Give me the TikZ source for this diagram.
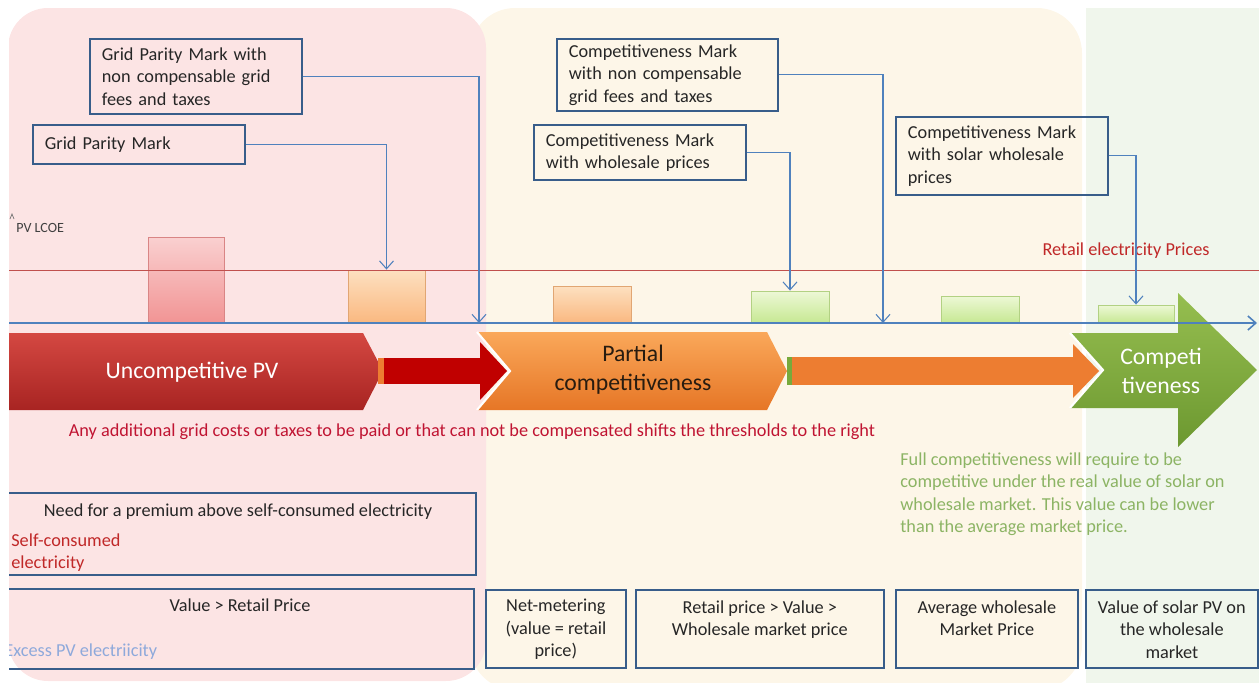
\documentclass[tikz,border=0pt]{standalone}
\usepackage{fontspec}
\setmainfont{Carlito}
\usetikzlibrary{arrows.meta}

\definecolor{pinkbg}{RGB}{252,228,228}
\definecolor{beigebg}{RGB}{253,246,232}
\definecolor{greenbg}{RGB}{240,246,236}
\definecolor{boxblue}{RGB}{56,93,138}
\definecolor{axisblue}{RGB}{79,129,189}
\definecolor{retailred}{RGB}{192,80,77}
\definecolor{retailtxt}{RGB}{192,40,40}
\definecolor{warnred}{RGB}{192,20,50}
\definecolor{fullgreen}{RGB}{140,180,100}
\definecolor{excessblue}{RGB}{142,169,219}
\definecolor{uncompTop}{RGB}{212,72,66}
\definecolor{uncompBot}{RGB}{168,36,34}
\definecolor{shaftred}{RGB}{192,0,0}
\definecolor{partialTop}{RGB}{250,168,90}
\definecolor{partialBot}{RGB}{230,118,38}
\definecolor{shaftorange}{RGB}{237,125,49}
\definecolor{competTop}{RGB}{150,190,80}
\definecolor{competBot}{RGB}{108,152,48}
\definecolor{partialtext}{RGB}{40,28,16}
\definecolor{tailgreen}{RGB}{120,170,60}
\definecolor{pinkbarTop}{RGB}{250,208,208}
\definecolor{pinkbarBot}{RGB}{241,148,148}
\definecolor{orangebarTop}{RGB}{253,224,192}
\definecolor{orangebarBot}{RGB}{250,184,128}
\definecolor{greenbarTop}{RGB}{237,248,214}
\definecolor{greenbarBot}{RGB}{198,232,146}

\newcommand{\boxfont}{\fontsize{10.4}{12.8}\selectfont}
\newcommand{\stagefont}{\fontsize{13.5}{16.5}\selectfont}

\begin{document}
\begin{tikzpicture}[x=0.02cm, y=-0.02cm,
    >={Straight Barb[length=4.5pt,width=8pt]},
    markbox/.style={draw=boxblue, line width=1pt, inner xsep=0.24cm, inner ysep=2pt,
        text width=#1, align=left, anchor=north west, font=\boxfont, text=black!85},
    markbox/.default=3.76cm,
    valbox/.style={draw=boxblue, line width=1pt, inner sep=0pt, anchor=north west},
    valtext/.style={inner sep=0pt, anchor=north, align=center, font=\boxfont, text=black!85},
    bar/.style={inner sep=0pt, line width=0.5pt},
    conn/.style={draw=axisblue, line width=0.6pt, ->}]
    \useasboundingbox (0,0) rectangle (1259,683);
    \clip (9,0) rectangle (1259,683);

    % Background zones
    \fill[beigebg, rounded corners=0.9cm] (470,8) rectangle (1082,690);
    \fill[greenbg] (1086,8) rectangle (1265,690);
    \fill[pinkbg, rounded corners=0.8cm] (8,8) rectangle (486,681);

    % Stage arrows
    \path[top color=uncompTop, bottom color=uncompBot]
        (9,333) -- (363,333) -- (383,371) -- (363,410) -- (9,410) -- cycle;
    \fill[shaftorange] (378,358) rectangle (384,384);
    \fill[shaftred] (384,358) rectangle (481,384);
    \fill[shaftred] (480,342) -- (507,371) -- (480,400) -- cycle;

    \path[top color=partialTop, bottom color=partialBot]
        (477,332) -- (767,332) -- (787,371) -- (767,410) -- (477,410) -- (510,371) -- cycle;
    \draw[white, line width=1.2pt] (477,332) -- (510,371) -- (477,410);
    \fill[tailgreen] (787,357) rectangle (792,385);
    \fill[shaftorange] (792,357) rectangle (1074,385);
    \fill[shaftorange] (1073,344) -- (1099,371) -- (1073,398) -- cycle;

    \path[top color=competTop, bottom color=competBot]
        (1070,333) -- (1178,333) -- (1178,293) -- (1257,370) -- (1178,447)
        -- (1178,408) -- (1070,408) -- (1103,370) -- cycle;
    \draw[white, line width=1.2pt] (1070,333) -- (1103,370) -- (1070,408);

    \node[font=\stagefont, text=white] (uncomp) at (192,372) {Uncompetitive PV};
    \node[font=\stagefont, text=partialtext, align=center] (partial) at (633,370) {Partial\\competitiveness};
    \node[font=\stagefont, text=white, align=center] (compet) at (1161,371) {Competi\\tiveness};

    % Price bars on the axis
    \foreach \i/\xa/\xb/\yt/\c in {1/148/224/237/pinkbar, 2/348/425/270/orangebar,
        3/553/631/286/orangebar, 4/751/829/291/greenbar, 5/941/1019/296/greenbar,
        6/1098/1174/305/greenbar} {
        \node[bar, top color=\c Top, bottom color=\c Bot, draw=\c Bot!90!black,
            minimum width={(\xb-\xa)*0.02cm}, minimum height={(323-\yt)*0.02cm}]
            (bar\i) at ({(\xa+\xb)/2},{(\yt+323)/2}) {};
    }

    % Price lines
    \draw[retailred, line width=0.5pt] (9,270) -- (1259,270);
    \node[font=\boxfont, text=retailtxt] (retail) at (1126,251) {Retail electricity Prices};
    \coordinate (axstart) at (9,323);
    \coordinate (axend) at (1257,323);
    \draw[axisblue, line width=0.9pt, ->] (axstart) -- (axend);
    \draw[black!55, line width=0.4pt] (10,219) -- (12,214) -- (14,219);
    \node[font=\fontsize{8}{9}\selectfont, text=black!75, anchor=west, inner sep=0pt] (lcoe) at (16,228) {PV LCOE};

    % Threshold marks
    \node[markbox, minimum height=1.5cm] (gpmtax) at (89,38) {Grid Parity Mark with\\non compensable grid\\fees and taxes};
    \node[markbox, minimum height=0.78cm] (gpm) at (32,124) {Grid Parity Mark};
    \node[markbox=3.94cm, minimum height=1.44cm] (cmtax) at (556,38) {Competitiveness Mark\\with non compensable\\grid fees and taxes};
    \node[markbox, minimum height=1.1cm] (cmws) at (533,124) {Competitiveness Mark\\with wholesale prices};
    \node[markbox, minimum height=1.56cm] (cmsws) at (895,116) {Competitiveness Mark\\with solar wholesale\\prices};

    \coordinate (axA) at (479,323);
    \coordinate (axC) at (883,323);
    \draw[conn] (gpmtax.east) -| (axA);
    \draw[conn] (gpm.east) -| (bar2.north);
    \draw[conn] (cmtax.east) -| (axC);
    \draw[conn] (cmws.east) -| (bar4.north);
    \draw[conn] (cmsws.east) -| (bar6.north);

    % Notes
    \node[font=\boxfont, text=warnred] (shift) at (472,432) {Any additional grid costs or taxes to be paid or that can not be compensated shifts the thresholds to the right};
    \node[font=\boxfont, text=fullgreen, align=left, anchor=north west, inner sep=0pt] (fullcomp) at (900,452)
        {Full competitiveness will require to be\\competitive under the real value of solar on\\wholesale market. This value can be lower\\than the average market price.};

    % Value boxes
    \node[valbox, minimum width=9.6cm, minimum height=1.64cm] (premium) at (-5,492) {};
    \node[valtext] (premtxt) at (238,503) {Need for a premium above self-consumed electricity};
    \node[font=\boxfont, text=retailtxt, align=left, anchor=north west, inner sep=0pt] (selfcons) at (11,533) {Self-consumed\\electricity};

    \node[valbox, minimum width=9.56cm, minimum height=1.6cm] (retailbox) at (-5,588) {};
    \node[valtext] (retailtxt) at (240,598) {Value > Retail Price};
    \node[font=\boxfont, text=excessblue, anchor=north west, inner sep=0pt] (excess) at (4,643) {Excess PV electriicity};

    \node[valbox, minimum width=2.8cm, minimum height=1.56cm] (netbox) at (485,589) {};
    \node[valtext] (nettxt) at (netbox.north) [yshift=-0.2cm] {Net-metering\\(value = retail\\price)};
    \node[valbox, minimum width=4.96cm, minimum height=1.56cm] (rangebox) at (635,589) {};
    \node[valtext] (rangetxt) at (rangebox.north) [yshift=-0.22cm] {Retail price > Value >\\Wholesale market price};
    \node[valbox, minimum width=3.64cm, minimum height=1.56cm] (avgbox) at (895,589) {};
    \node[valtext] (avgtxt) at (avgbox.north) [yshift=-0.22cm] {Average wholesale\\Market Price};
    \node[valbox, minimum width=3.44cm, minimum height=1.56cm] (solarbox) at (1085,589) {};
    \node[valtext] (solartxt) at (solarbox.north) [yshift=-0.22cm] {Value of solar PV on\\the wholesale\\market};
\end{tikzpicture}
\end{document}
